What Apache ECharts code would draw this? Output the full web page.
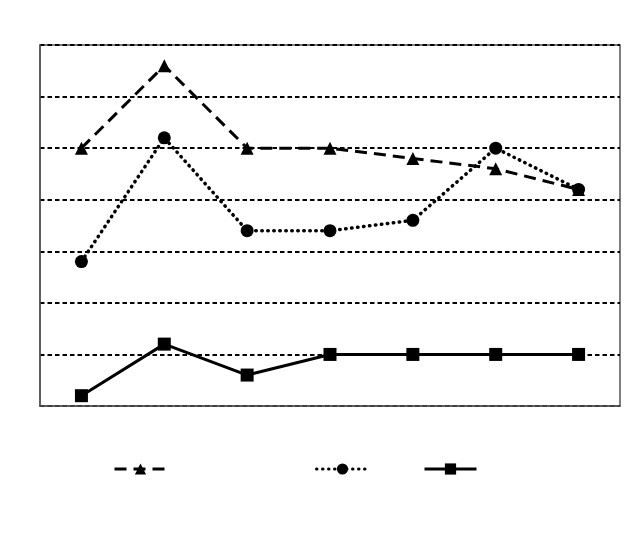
<!DOCTYPE html>
<html><head><meta charset="utf-8">
<script src="https://cdn.jsdelivr.net/npm/echarts@6/dist/echarts.min.js"></script>
<style>html,body{margin:0;padding:0;background:#fff}#c{width:640px;height:534px}</style>
</head><body><div id="c"></div>
<script>
const categories = ['1','2','3','4','5','6','7'];
const seriesNames = ['Series 1','Series 2','Series 3'];
const triangleValues = [50, 66, 50, 50, 48, 46, 42];
const circleValues = [28, 52, 34, 34, 36, 50, 42];
const squareValues = [2, 12, 6, 10, 10, 10, 10];
const yMin = 0, yMax = 70, yInterval = 10;

const chart = echarts.init(document.getElementById('c'), null, {renderer:'canvas'});
const legendBase = {orient:'horizontal', top:457, itemWidth:52, itemHeight:14, itemGap:0,
  formatter:()=>'', textStyle:{fontSize:1}, selectedMode:false, lineStyle:{width:3}};
chart.setOption({
  animation:false,
  backgroundColor:'#fff',
  grid:{left:40,right:20,top:45,bottom:128,show:true,borderColor:'#555',borderWidth:1.5,backgroundColor:'transparent'},
  xAxis:{type:'category',data:categories,boundaryGap:true,
    axisLine:{show:true,lineStyle:{color:'#555',width:1.5}},axisTick:{show:false},axisLabel:{show:false}},
  yAxis:{type:'value',min:yMin,max:yMax,interval:yInterval,
    axisLine:{show:true,lineStyle:{color:'#555',width:1.5}},axisTick:{show:false},axisLabel:{show:false},
    splitLine:{show:true,lineStyle:{color:'#000',width:1.8,type:[4.5,3]}}},
  legend:[
    Object.assign({},legendBase,{left:108,data:[seriesNames[0]]}),
    Object.assign({},legendBase,{left:310,data:[seriesNames[1]]}),
    Object.assign({},legendBase,{left:418,data:[seriesNames[2]]})
  ],
  series:[
    {name:seriesNames[0],type:'line',data:triangleValues,symbol:'triangle',symbolSize:13,
      itemStyle:{color:'#000'},lineStyle:{color:'#000',width:3,type:[12,7]}},
    {name:seriesNames[1],type:'line',data:circleValues,symbol:'circle',symbolSize:13,
      itemStyle:{color:'#000'},lineStyle:{color:'#000',width:3.5,type:[0.5,5.5],cap:'round'}},
    {name:seriesNames[2],type:'line',data:squareValues,symbol:'rect',symbolSize:13,
      itemStyle:{color:'#000'},lineStyle:{color:'#000',width:3,type:'solid'}}
  ]
});
</script></body></html>
